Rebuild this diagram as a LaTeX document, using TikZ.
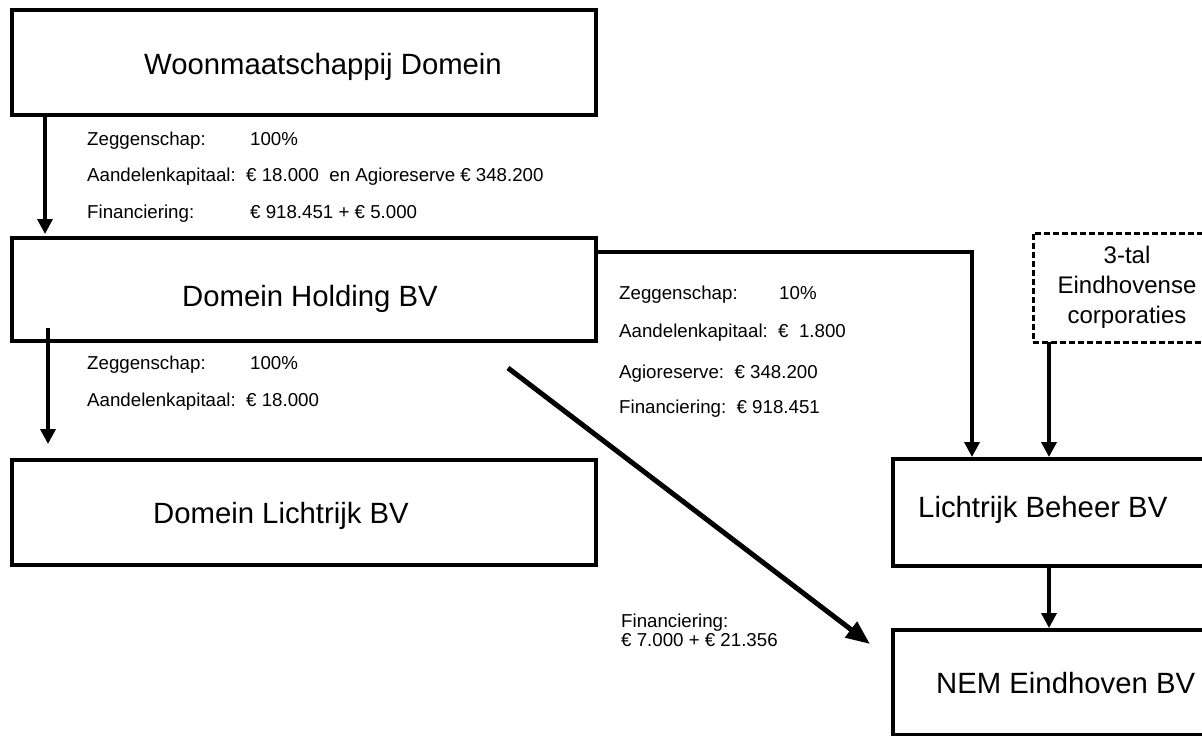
\documentclass[tikz,border=0pt]{standalone}
\usepackage{fontspec}
\setmainfont{Liberation Sans}
\usetikzlibrary{arrows.meta}
\tikzset{
  box/.style={draw, line width=4.5pt, rectangle, inner sep=0pt, outer sep=0pt},
  dbox/.style={draw, line width=3pt, dash pattern=on 6pt off 3pt, rectangle, inner sep=0pt, outer sep=0pt},
  title/.style={anchor=base, inner sep=0pt, font=\fontsize{29.3}{35}\selectfont},
  small/.style={anchor=base west, inner sep=0pt, font=\fontsize{18.7}{22}\selectfont},
  conn/.style={line width=3.5pt, -{Triangle[width=15pt,length=15pt]}},
  diag/.style={line width=5pt, -{Triangle[width=19pt,length=24pt]}}
}
\begin{document}
\begin{tikzpicture}[x=1pt,y=-1pt]
\useasboundingbox (0,0) rectangle (1202,736);
\clip (0,0) rectangle (1202,736);
% boxes
\node[box, minimum width=584pt, minimum height=105pt] (woon) at (304,62.5) {};
\node[box, minimum width=584pt, minimum height=103pt] (holding) at (304,289.5) {};
\node[box, minimum width=584pt, minimum height=105pt] (dlicht) at (304,512.5) {};
\node[box, minimum width=337pt, minimum height=107pt] (lbeheer) at (1061.5,512.5) {};
\node[box, minimum width=337pt, minimum height=105pt] (nem) at (1061.5,682.5) {};
\node[dbox, minimum width=197pt, minimum height=109pt] (corp) at (1131.5,287.5) {};
% titles
\node[title] (woonT) at (323,74) {Woonmaatschappij Domein};
\node[title] (holdingT) at (310,306) {Domein Holding BV};
\node[title] (dlichtT) at (281,523) {Domein Lichtrijk BV};
\node[title, anchor=base west] (lbeheerT) at (918,517) {Lichtrijk Beheer BV};
\node[title, anchor=base west] (nemT) at (936,693) {NEM Eindhoven BV};
\node[anchor=center, inner sep=0pt, align=center, font=\fontsize{24}{30}\selectfont] (corpT) at (1127,287) {3-tal\\Eindhovense\\corporaties};
% labels block 1
\node[small] (z1) at (87,145) {Zeggenschap:};
\node[small] (z1v) at (250,145) {100\%};
\node[small] (a1) at (87,181) {Aandelenkapitaal:\ \ € 18.000\ \ en Agioreserve € 348.200};
\node[small] (f1) at (87,218) {Financiering:};
\node[small] (f1v) at (250,218) {€ 918.451 + € 5.000};
% labels block 2
\node[small] (z2) at (87,369) {Zeggenschap:};
\node[small] (z2v) at (250,369) {100\%};
\node[small] (a2) at (87,406) {Aandelenkapitaal:\ \ € 18.000};
% labels block 3
\node[small] (z3) at (619,299) {Zeggenschap:};
\node[small] (z3v) at (779,299) {10\%};
\node[small] (a3) at (619,337) {Aandelenkapitaal:\ \ €\ \ 1.800};
\node[small] (g3) at (619,378) {Agioreserve:\ \ € 348.200};
\node[small] (f3) at (619,413) {Financiering:\ \ € 918.451};
% label block 4
\node[small] (f4) at (621,627) {Financiering:};
\node[small] (f4v) at (621,646) {€ 7.000 + € 21.356};
% connectors
\draw[conn] ([xshift=33pt]woon.south west) -- ([xshift=33pt,yshift=4pt]holding.north west);
\draw[conn] ([xshift=36pt,yshift=13pt]holding.south west) -- ([xshift=36pt,yshift=16pt]dlicht.north west);
\draw[conn] ([yshift=-14pt]holding.north east) -| ([xshift=79pt,yshift=2pt]lbeheer.north west);
\draw[conn] ([xshift=16pt]corp.south west) -- ([xshift=156pt,yshift=2pt]lbeheer.north west);
\draw[conn] ([xshift=156pt]lbeheer.south west) -- ([xshift=156pt,yshift=2pt]nem.north west);
\draw[diag] ([xshift=496pt,yshift=-27pt]holding.south west) -- ([xshift=-23pt,yshift=-14pt]nem.north west);
\end{tikzpicture}
\end{document}
